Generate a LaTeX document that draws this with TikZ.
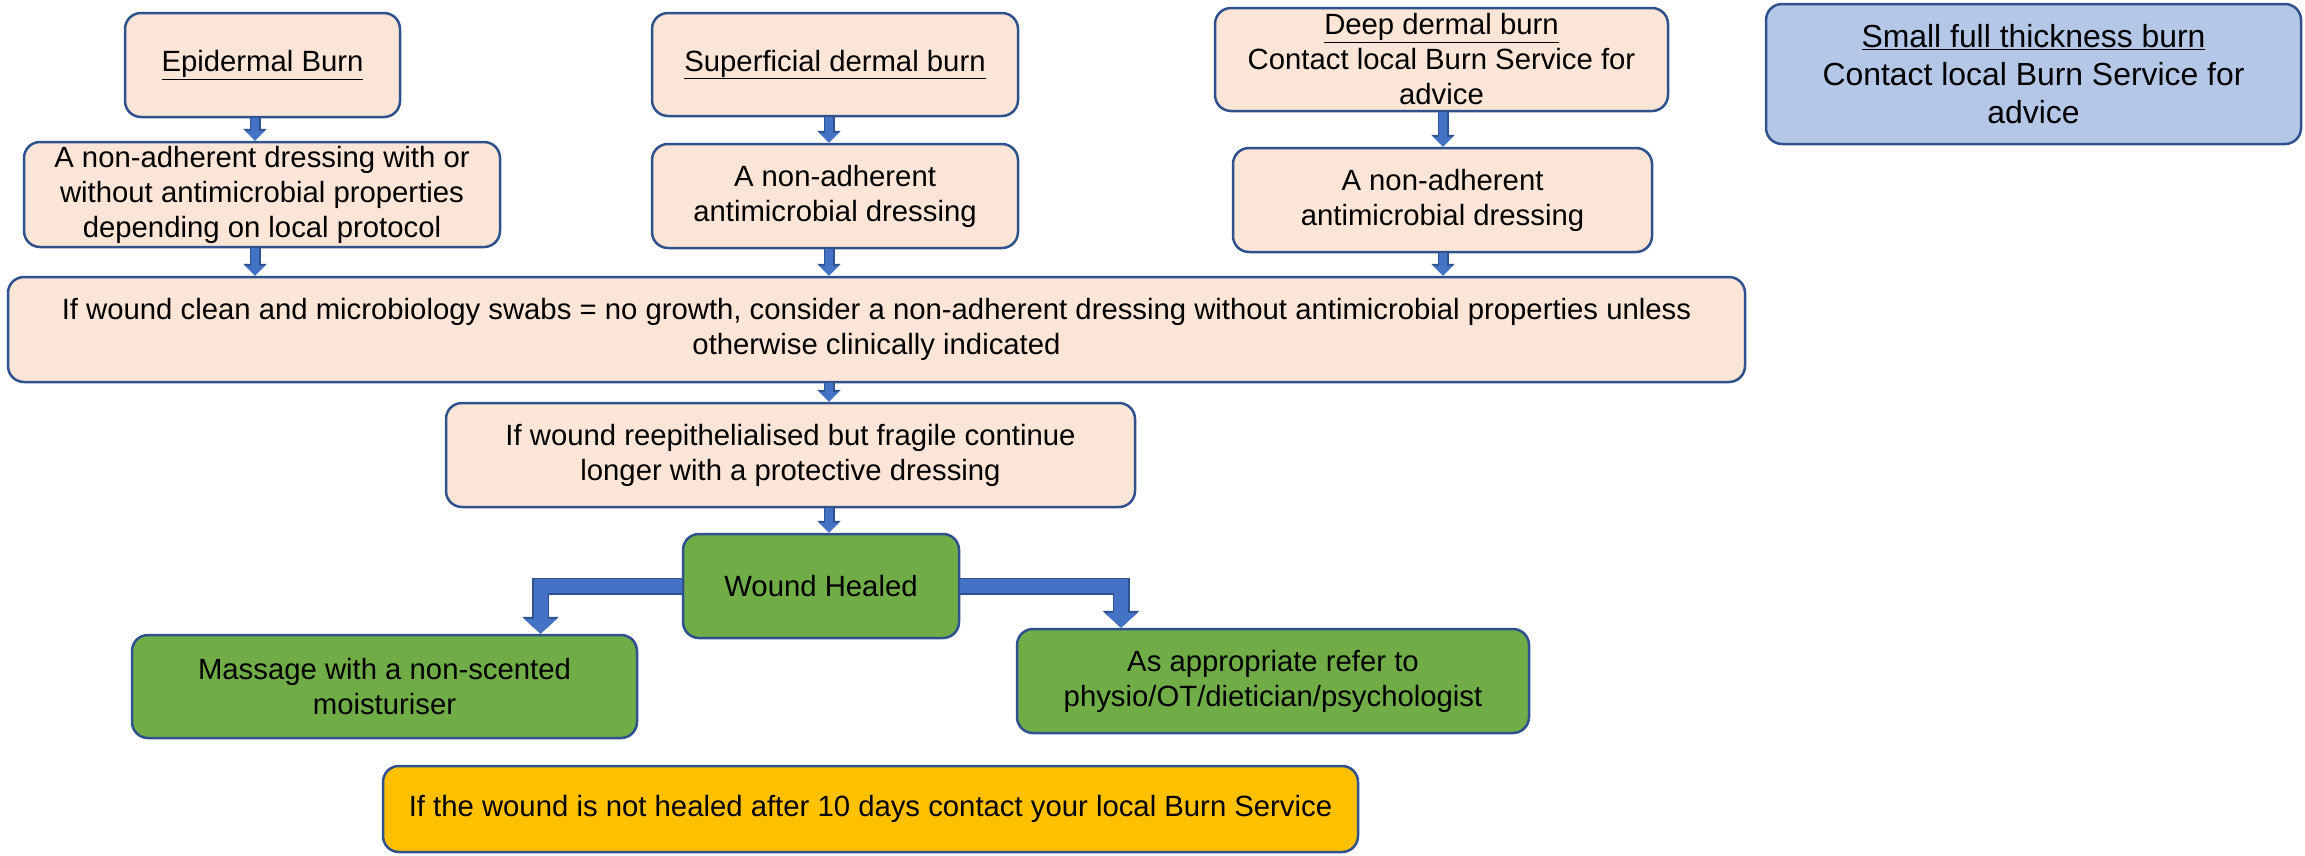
\documentclass[tikz,border=0pt]{standalone}
\usepackage{fontspec}
\setmainfont{Liberation Sans}
\usetikzlibrary{arrows.meta}

\definecolor{peach}{HTML}{FBE5D6}
\definecolor{edge}{HTML}{2F528F}
\definecolor{arrowblue}{HTML}{4472C4}
\definecolor{leaf}{HTML}{70AD47}
\definecolor{sky}{HTML}{B4C7E7}
\definecolor{amber}{HTML}{FFC000}

\newcommand{\txt}{\fontsize{29.3}{35}\selectfont}
\newcommand{\bigtxt}{\fontsize{31.9}{38}\selectfont}

\begin{document}
\begin{tikzpicture}[x=1pt, y=-1pt,
    box/.style={draw=edge, line width=2.5pt, rounded corners=16pt, align=center, inner sep=0pt, font=\txt},
    burnbox/.style={box, fill=peach},
    healbox/.style={box, fill=leaf},
    arr/.style={preaction={draw=edge, line width=11pt, -{Triangle[width=23pt,length=12pt]}},
        draw=arrowblue, line width=8pt, -{Triangle[width=19pt,length=10pt]}},
    bigarr/.style={preaction={draw=edge, line width=17pt, line join=miter, -{Triangle[width=36pt,length=17pt]}},
        draw=arrowblue, line width=14pt, line join=miter, -{Triangle[width=32pt,length=15pt]}}]

    \useasboundingbox (0,0) rectangle (2305,855);

    % arrow columns
    \coordinate (c1) at (255,0);
    \coordinate (c2) at (829,0);
    \coordinate (c3) at (1443,0);

    % burn depths
    \node[burnbox, minimum width=275pt, minimum height=104pt] (epi) at (262.5,65) {\underline{Epidermal Burn}};
    \node[burnbox, minimum width=476pt, minimum height=105pt] (na1) at (262,194.5) {A non-adherent dressing with or\\without antimicrobial properties\\depending on local protocol};

    \node[burnbox, minimum width=366pt, minimum height=103pt] (sup) at (835,64.5) {\underline{Superficial dermal burn}};
    \node[burnbox, minimum width=366pt, minimum height=104pt] (na2) at (835,196) {A non-adherent\\antimicrobial dressing};

    \node[burnbox, minimum width=453pt, minimum height=103pt] (deep) at (1441.5,59.5) {\underline{Deep dermal burn}\\Contact local Burn Service for\\advice};
    \node[burnbox, minimum width=419pt, minimum height=104pt] (na3) at (1442.5,200) {A non-adherent\\antimicrobial dressing};

    \node[box, fill=sky, font=\bigtxt, minimum width=535pt, minimum height=140pt] (full) at (2033.5,74) {\underline{Small full thickness burn}\\Contact local Burn Service for\\advice};

    % follow up
    \node[burnbox, minimum width=1737pt, minimum height=105pt] (clean) at (876.5,329.5) {If wound clean and microbiology swabs = no growth, consider a non-adherent dressing without antimicrobial properties unless\\otherwise clinically indicated};
    \node[burnbox, minimum width=689pt, minimum height=104pt] (fragile) at (790.5,455) {If wound reepithelialised but fragile continue\\longer with a protective dressing};

    \node[healbox, minimum width=276pt, minimum height=104pt] (healed) at (821,586) {Wound Healed};
    \node[healbox, minimum width=505pt, minimum height=103pt] (massage) at (384.5,686.5) {Massage with a non-scented\\moisturiser};
    \node[healbox, minimum width=512pt, minimum height=104pt] (refer) at (1273,681) {As appropriate refer to\\physio/OT/dietician/psychologist};

    \node[box, fill=amber, minimum width=975pt, minimum height=86pt] (tendays) at (870.5,809) {If the wound is not healed after 10 days contact your local Burn Service};

    % arrows
    \draw[arr] (epi.south -| c1) -- (na1.north -| c1);
    \draw[arr] (na1.south -| c1) -- (clean.north -| c1);
    \draw[arr] (sup.south -| c2) -- (na2.north -| c2);
    \draw[arr] (na2.south -| c2) -- (clean.north -| c2);
    \draw[arr] (deep.south -| c3) -- (na3.north -| c3);
    \draw[arr] (na3.south -| c3) -- (clean.north -| c3);
    \draw[arr] (clean.south -| c2) -- (fragile.north -| c2);
    \draw[arr] (fragile.south -| c2) -- (healed.north -| c2);

    \draw[bigarr] (healed.west) -| ([xshift=156pt]massage.north);
    \draw[bigarr] (healed.east) -| ([xshift=-152pt]refer.north);
\end{tikzpicture}
\end{document}
